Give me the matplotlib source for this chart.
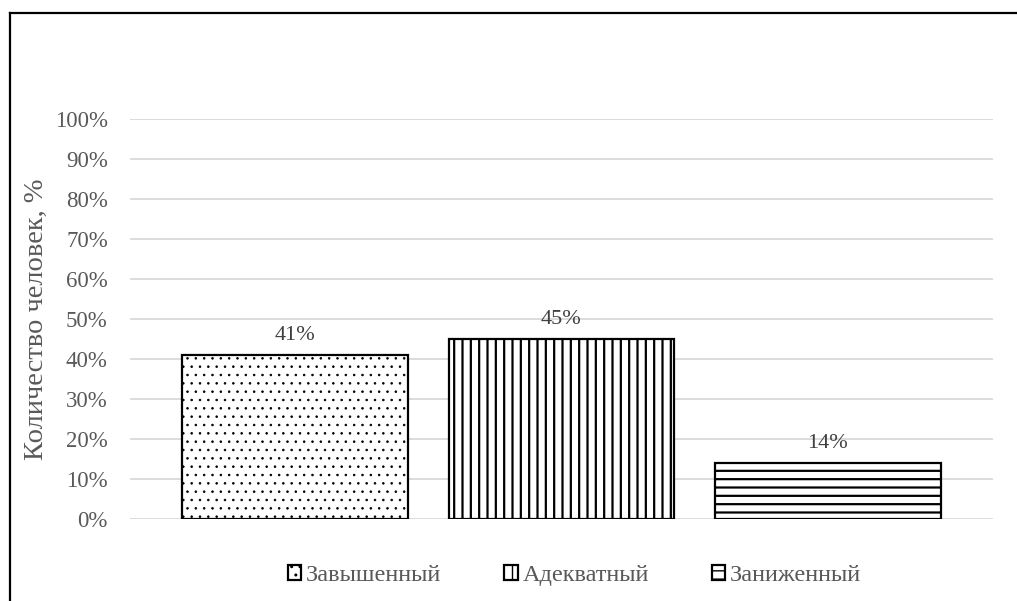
import matplotlib.pyplot as plt
from matplotlib.lines import Line2D
from matplotlib.ticker import PercentFormatter

categories = ["Завышенный", "Адекватный", "Заниженный"]
values = [41, 45, 14]
hatches = ["..", "||", "--"]
hatch_widths = [0.6, 1.6, 1.6]

plt.rcParams['font.family'] = ['Liberation Serif', 'DejaVu Serif']

fig = plt.figure(figsize=(10.17, 6.01), dpi=100)
ax = fig.add_axes([0.1278, 0.1364, 0.8486, 0.6656])

for i, (lab, v, h, hw) in enumerate(zip(categories, values, hatches, hatch_widths)):
    with plt.rc_context({'hatch.linewidth': hw}):
        b = ax.bar(i, v, width=0.848, color="white", edgecolor="black",
                   linewidth=1.6, hatch=h, label=lab, zorder=3)
    if hasattr(b[0], "set_hatch_linewidth"):
        b[0].set_hatch_linewidth(hw)
    ax.annotate(f"{v}%", (i, v), xytext=(0, 7), textcoords="offset points",
                ha="center", va="bottom", fontsize=16, color="#404040")

ax.set_ylim(0, 100)
ax.set_xlim(-0.62, 2.62)
ax.set_yticks(range(0, 101, 10))
ax.yaxis.set_major_formatter(PercentFormatter(decimals=0))
ax.tick_params(axis="y", length=0, pad=16, labelsize=16.5, labelcolor="#595959")
ax.set_xticks([])
ax.grid(axis="y", color="#d9d9d9", linewidth=1.3, zorder=0)
for s in ax.spines.values():
    s.set_visible(False)
ax.set_ylabel("Количество человек, %", fontsize=20.5, color="#595959", labelpad=4)

ax.legend(loc="upper center", bbox_to_anchor=(0.515, -0.06), ncol=3,
          frameon=False, fontsize=17.5, handlelength=0.55, handleheight=0.55,
          handletextpad=0.2, columnspacing=2.6, labelcolor="#595959")

# outer frame (cropped chart border)
fig.add_artist(Line2D([10 / 1017, 1], [1 - 13 / 601, 1 - 13 / 601],
                      color="black", linewidth=1.6, transform=fig.transFigure))
fig.add_artist(Line2D([10 / 1017, 10 / 1017], [0, 1 - 13 / 601],
                      color="black", linewidth=1.6, transform=fig.transFigure))

fig.savefig("out.png", dpi=100)
